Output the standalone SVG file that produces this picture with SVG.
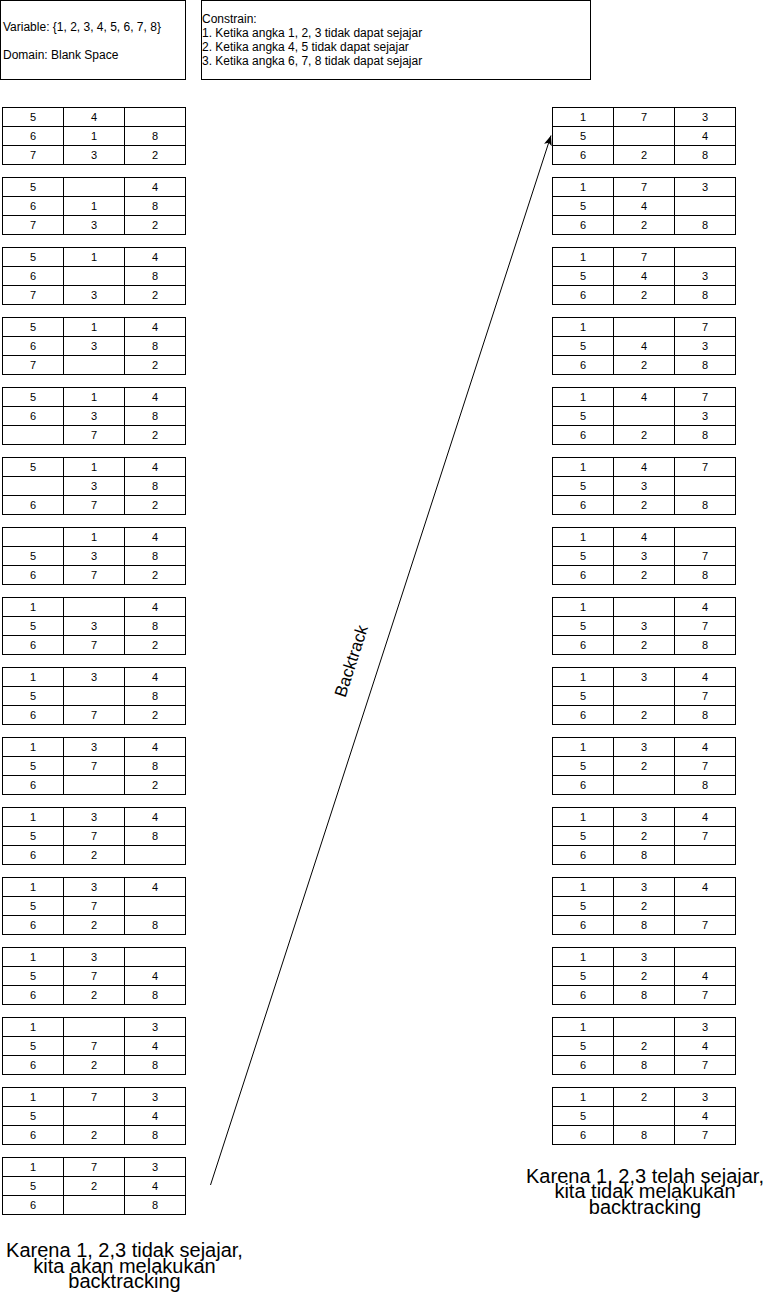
<svg xmlns="http://www.w3.org/2000/svg" width="771" height="1311" viewBox="0 0 771 1311">
<style>
.box{fill:#fff;stroke:#000;stroke-width:1}
.cell{fill:#fff;stroke:#000;stroke-width:1}
.div{fill:none;stroke:#000;stroke-width:1}
.g text{font-family:"Liberation Sans",Arial,sans-serif;font-size:11px;fill:#000;text-anchor:middle}
.t{font-family:"Liberation Sans",Arial,sans-serif;font-size:12px;fill:#000}
.big{font-family:"Liberation Sans",Arial,sans-serif;font-size:20px;fill:#000;text-anchor:middle}
.lbl{font-family:"Liberation Sans",Arial,sans-serif;font-size:17px;fill:#000;text-anchor:middle}
</style>
<defs>
<marker id="arr" viewBox="0 0 10 8" refX="10" refY="4" markerWidth="10" markerHeight="8" markerUnits="userSpaceOnUse" orient="auto">
<path d="M0,0 L10,4 L0,8 L2.5,4 Z" fill="#000"/>
</marker>
<g id="grid">
<rect class="cell" x="0.5" y="0.5" width="183" height="57" fill="#fff" stroke="#000"/>
<path class="div" d="M61.5,0.5V57.5M122.5,0.5V57.5M0.5,19.5H183.5M0.5,38.5H183.5" fill="none" stroke="#000"/>
</g>
</defs>
<rect x="0" y="0" width="771" height="1311" fill="#fff"/>
<g id="var-box">
<rect class="box" x="0.5" y="0.5" width="185" height="79"/>
<text class="t" x="3" y="31">Variable: {1, 2, 3, 4, 5, 6, 7, 8}</text>
<text class="t" x="3" y="59">Domain: Blank Space</text>
</g>
<g id="constraint-box">
<rect class="box" x="201.5" y="0.5" width="389" height="79"/>
<text class="t" x="202" y="23">Constrain:</text>
<text class="t" x="202" y="37">1. Ketika angka 1, 2, 3 tidak dapat sejajar</text>
<text class="t" x="202" y="51">2. Ketika angka 4, 5 tidak dapat sejajar</text>
<text class="t" x="202" y="65">3. Ketika angka 6, 7, 8 tidak dapat sejajar</text>
</g>

<g id="L1" class="g" transform="translate(2,107)"><use href="#grid"/><text x="31" y="14">5</text><text x="92" y="14">4</text><text x="31" y="33">6</text><text x="92" y="33">1</text><text x="153" y="33">8</text><text x="31" y="52">7</text><text x="92" y="52">3</text><text x="153" y="52">2</text></g>
<g id="L2" class="g" transform="translate(2,177)"><use href="#grid"/><text x="31" y="14">5</text><text x="153" y="14">4</text><text x="31" y="33">6</text><text x="92" y="33">1</text><text x="153" y="33">8</text><text x="31" y="52">7</text><text x="92" y="52">3</text><text x="153" y="52">2</text></g>
<g id="L3" class="g" transform="translate(2,247)"><use href="#grid"/><text x="31" y="14">5</text><text x="92" y="14">1</text><text x="153" y="14">4</text><text x="31" y="33">6</text><text x="153" y="33">8</text><text x="31" y="52">7</text><text x="92" y="52">3</text><text x="153" y="52">2</text></g>
<g id="L4" class="g" transform="translate(2,317)"><use href="#grid"/><text x="31" y="14">5</text><text x="92" y="14">1</text><text x="153" y="14">4</text><text x="31" y="33">6</text><text x="92" y="33">3</text><text x="153" y="33">8</text><text x="31" y="52">7</text><text x="153" y="52">2</text></g>
<g id="L5" class="g" transform="translate(2,387)"><use href="#grid"/><text x="31" y="14">5</text><text x="92" y="14">1</text><text x="153" y="14">4</text><text x="31" y="33">6</text><text x="92" y="33">3</text><text x="153" y="33">8</text><text x="92" y="52">7</text><text x="153" y="52">2</text></g>
<g id="L6" class="g" transform="translate(2,457)"><use href="#grid"/><text x="31" y="14">5</text><text x="92" y="14">1</text><text x="153" y="14">4</text><text x="92" y="33">3</text><text x="153" y="33">8</text><text x="31" y="52">6</text><text x="92" y="52">7</text><text x="153" y="52">2</text></g>
<g id="L7" class="g" transform="translate(2,527)"><use href="#grid"/><text x="92" y="14">1</text><text x="153" y="14">4</text><text x="31" y="33">5</text><text x="92" y="33">3</text><text x="153" y="33">8</text><text x="31" y="52">6</text><text x="92" y="52">7</text><text x="153" y="52">2</text></g>
<g id="L8" class="g" transform="translate(2,597)"><use href="#grid"/><text x="31" y="14">1</text><text x="153" y="14">4</text><text x="31" y="33">5</text><text x="92" y="33">3</text><text x="153" y="33">8</text><text x="31" y="52">6</text><text x="92" y="52">7</text><text x="153" y="52">2</text></g>
<g id="L9" class="g" transform="translate(2,667)"><use href="#grid"/><text x="31" y="14">1</text><text x="92" y="14">3</text><text x="153" y="14">4</text><text x="31" y="33">5</text><text x="153" y="33">8</text><text x="31" y="52">6</text><text x="92" y="52">7</text><text x="153" y="52">2</text></g>
<g id="L10" class="g" transform="translate(2,737)"><use href="#grid"/><text x="31" y="14">1</text><text x="92" y="14">3</text><text x="153" y="14">4</text><text x="31" y="33">5</text><text x="92" y="33">7</text><text x="153" y="33">8</text><text x="31" y="52">6</text><text x="153" y="52">2</text></g>
<g id="L11" class="g" transform="translate(2,807)"><use href="#grid"/><text x="31" y="14">1</text><text x="92" y="14">3</text><text x="153" y="14">4</text><text x="31" y="33">5</text><text x="92" y="33">7</text><text x="153" y="33">8</text><text x="31" y="52">6</text><text x="92" y="52">2</text></g>
<g id="L12" class="g" transform="translate(2,877)"><use href="#grid"/><text x="31" y="14">1</text><text x="92" y="14">3</text><text x="153" y="14">4</text><text x="31" y="33">5</text><text x="92" y="33">7</text><text x="31" y="52">6</text><text x="92" y="52">2</text><text x="153" y="52">8</text></g>
<g id="L13" class="g" transform="translate(2,947)"><use href="#grid"/><text x="31" y="14">1</text><text x="92" y="14">3</text><text x="31" y="33">5</text><text x="92" y="33">7</text><text x="153" y="33">4</text><text x="31" y="52">6</text><text x="92" y="52">2</text><text x="153" y="52">8</text></g>
<g id="L14" class="g" transform="translate(2,1017)"><use href="#grid"/><text x="31" y="14">1</text><text x="153" y="14">3</text><text x="31" y="33">5</text><text x="92" y="33">7</text><text x="153" y="33">4</text><text x="31" y="52">6</text><text x="92" y="52">2</text><text x="153" y="52">8</text></g>
<g id="L15" class="g" transform="translate(2,1087)"><use href="#grid"/><text x="31" y="14">1</text><text x="92" y="14">7</text><text x="153" y="14">3</text><text x="31" y="33">5</text><text x="153" y="33">4</text><text x="31" y="52">6</text><text x="92" y="52">2</text><text x="153" y="52">8</text></g>
<g id="L16" class="g" transform="translate(2,1157)"><use href="#grid"/><text x="31" y="14">1</text><text x="92" y="14">7</text><text x="153" y="14">3</text><text x="31" y="33">5</text><text x="92" y="33">2</text><text x="153" y="33">4</text><text x="31" y="52">6</text><text x="153" y="52">8</text></g>

<g id="R1" class="g" transform="translate(552,107)"><use href="#grid"/><text x="31" y="14">1</text><text x="92" y="14">7</text><text x="153" y="14">3</text><text x="31" y="33">5</text><text x="153" y="33">4</text><text x="31" y="52">6</text><text x="92" y="52">2</text><text x="153" y="52">8</text></g>
<g id="R2" class="g" transform="translate(552,177)"><use href="#grid"/><text x="31" y="14">1</text><text x="92" y="14">7</text><text x="153" y="14">3</text><text x="31" y="33">5</text><text x="92" y="33">4</text><text x="31" y="52">6</text><text x="92" y="52">2</text><text x="153" y="52">8</text></g>
<g id="R3" class="g" transform="translate(552,247)"><use href="#grid"/><text x="31" y="14">1</text><text x="92" y="14">7</text><text x="31" y="33">5</text><text x="92" y="33">4</text><text x="153" y="33">3</text><text x="31" y="52">6</text><text x="92" y="52">2</text><text x="153" y="52">8</text></g>
<g id="R4" class="g" transform="translate(552,317)"><use href="#grid"/><text x="31" y="14">1</text><text x="153" y="14">7</text><text x="31" y="33">5</text><text x="92" y="33">4</text><text x="153" y="33">3</text><text x="31" y="52">6</text><text x="92" y="52">2</text><text x="153" y="52">8</text></g>
<g id="R5" class="g" transform="translate(552,387)"><use href="#grid"/><text x="31" y="14">1</text><text x="92" y="14">4</text><text x="153" y="14">7</text><text x="31" y="33">5</text><text x="153" y="33">3</text><text x="31" y="52">6</text><text x="92" y="52">2</text><text x="153" y="52">8</text></g>
<g id="R6" class="g" transform="translate(552,457)"><use href="#grid"/><text x="31" y="14">1</text><text x="92" y="14">4</text><text x="153" y="14">7</text><text x="31" y="33">5</text><text x="92" y="33">3</text><text x="31" y="52">6</text><text x="92" y="52">2</text><text x="153" y="52">8</text></g>
<g id="R7" class="g" transform="translate(552,527)"><use href="#grid"/><text x="31" y="14">1</text><text x="92" y="14">4</text><text x="31" y="33">5</text><text x="92" y="33">3</text><text x="153" y="33">7</text><text x="31" y="52">6</text><text x="92" y="52">2</text><text x="153" y="52">8</text></g>
<g id="R8" class="g" transform="translate(552,597)"><use href="#grid"/><text x="31" y="14">1</text><text x="153" y="14">4</text><text x="31" y="33">5</text><text x="92" y="33">3</text><text x="153" y="33">7</text><text x="31" y="52">6</text><text x="92" y="52">2</text><text x="153" y="52">8</text></g>
<g id="R9" class="g" transform="translate(552,667)"><use href="#grid"/><text x="31" y="14">1</text><text x="92" y="14">3</text><text x="153" y="14">4</text><text x="31" y="33">5</text><text x="153" y="33">7</text><text x="31" y="52">6</text><text x="92" y="52">2</text><text x="153" y="52">8</text></g>
<g id="R10" class="g" transform="translate(552,737)"><use href="#grid"/><text x="31" y="14">1</text><text x="92" y="14">3</text><text x="153" y="14">4</text><text x="31" y="33">5</text><text x="92" y="33">2</text><text x="153" y="33">7</text><text x="31" y="52">6</text><text x="153" y="52">8</text></g>
<g id="R11" class="g" transform="translate(552,807)"><use href="#grid"/><text x="31" y="14">1</text><text x="92" y="14">3</text><text x="153" y="14">4</text><text x="31" y="33">5</text><text x="92" y="33">2</text><text x="153" y="33">7</text><text x="31" y="52">6</text><text x="92" y="52">8</text></g>
<g id="R12" class="g" transform="translate(552,877)"><use href="#grid"/><text x="31" y="14">1</text><text x="92" y="14">3</text><text x="153" y="14">4</text><text x="31" y="33">5</text><text x="92" y="33">2</text><text x="31" y="52">6</text><text x="92" y="52">8</text><text x="153" y="52">7</text></g>
<g id="R13" class="g" transform="translate(552,947)"><use href="#grid"/><text x="31" y="14">1</text><text x="92" y="14">3</text><text x="31" y="33">5</text><text x="92" y="33">2</text><text x="153" y="33">4</text><text x="31" y="52">6</text><text x="92" y="52">8</text><text x="153" y="52">7</text></g>
<g id="R14" class="g" transform="translate(552,1017)"><use href="#grid"/><text x="31" y="14">1</text><text x="153" y="14">3</text><text x="31" y="33">5</text><text x="92" y="33">2</text><text x="153" y="33">4</text><text x="31" y="52">6</text><text x="92" y="52">8</text><text x="153" y="52">7</text></g>
<g id="R15" class="g" transform="translate(552,1087)"><use href="#grid"/><text x="31" y="14">1</text><text x="92" y="14">2</text><text x="153" y="14">3</text><text x="31" y="33">5</text><text x="153" y="33">4</text><text x="31" y="52">6</text><text x="92" y="52">8</text><text x="153" y="52">7</text></g>

<g id="connectors">
<path d="M210.5,1185 L551,135.5" fill="none" stroke="#000" stroke-width="1" marker-end="url(#arr)"/>
<text class="lbl" transform="translate(351,661) rotate(-72)" y="6">Backtrack</text>
</g>

<g id="note-left">
<text class="big" x="124.5" y="1257">Karena 1, 2,3 tidak sejajar,</text>
<text class="big" x="124.5" y="1272.5">kita akan melakukan</text>
<text class="big" x="124.5" y="1288">backtracking</text>
</g>
<g id="note-right">
<text class="big" x="645" y="1182.5">Karena 1, 2,3 telah sejajar,</text>
<text class="big" x="645" y="1198">kita tidak melakukan</text>
<text class="big" x="645" y="1213.5">backtracking</text>
</g>
</svg>
